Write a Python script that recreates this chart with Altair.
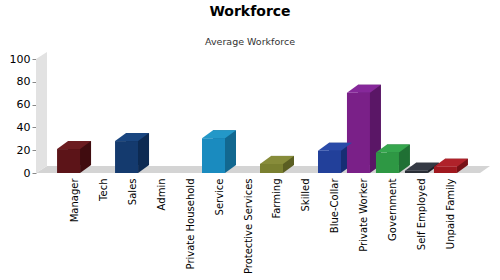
import altair as alt
import pandas as pd

categories = ["Manager", "Tech", "Sales", "Admin", "Private Household", "Service",
              "Protective Services", "Farming", "Skilled", "Blue-Collar",
              "Private Worker", "Government", "Self Employed", "Unpaid Family"]
values = [21, 0, 28, 0, 0, 30.5, 0, 8, 0, 19.5, 70.5, 18, 2, 5.5]

front_colors = ["#5c1418", "#888888", "#143a6e", "#888888", "#888888", "#1a8bbf",
                "#888888", "#7a8030", "#888888", "#22409a", "#7a2088", "#2e9844",
                "#2a2e36", "#a0181f"]
top_colors = ["#6c1c20", "#999999", "#1a4680", "#999999", "#999999", "#2398c8",
              "#999999", "#878c3a", "#999999", "#2a4aa8", "#86289a", "#36a64e",
              "#353a44", "#b0222a"]
side_colors = ["#400c0f", "#666666", "#0d2a52", "#666666", "#666666", "#126890",
               "#666666", "#5a5e22", "#666666", "#172e74", "#5a1666", "#207034",
               "#1c1f26", "#761116"]

df = pd.DataFrame({"category": categories, "value": values})
bars = df[df["value"] > 0]

# decorative floor and wall (pixel geometry)
floor_df = pd.DataFrame({"px": [0, 11, 444, 454], "top": [114, 107, 107, 107],
                         "bot": [114, 114, 114, 107]})
wall_df = pd.DataFrame({"px": [0, 11], "top": [0, -7], "bot": [114, 107]})

floor = alt.Chart(floor_df).mark_area(color="#d4d4d4", interpolate="linear").encode(
    x=alt.X("px:Q", scale=None, axis=None),
    y=alt.Y("top:Q", scale=None, axis=None),
    y2="bot:Q",
)
wall = alt.Chart(wall_df).mark_area(color="#e2e2e2", interpolate="linear").encode(
    x=alt.X("px:Q", scale=None, axis=None),
    y=alt.Y("top:Q", scale=None, axis=None),
    y2="bot:Q",
)

xscale = alt.Scale(type="band", domain=categories, paddingInner=0, paddingOuter=0.83)
yscale = alt.Scale(domain=[0, 100])

back = alt.Chart(bars).mark_bar(width=23, xOffset=5, yOffset=-8, y2Offset=-8).encode(
    x=alt.X("category:N", scale=xscale, axis=None),
    y=alt.Y("value:Q", scale=yscale, axis=None),
    color=alt.Color("category:N", scale=alt.Scale(domain=categories, range=side_colors), legend=None),
)
tri = alt.Chart(bars).mark_point(shape="M 5.5 0 L 16.5 -8 L 5.5 -8 Z", size=4, filled=True,
                                 opacity=1, strokeWidth=0).encode(
    x=alt.X("category:N", scale=xscale, axis=None),
    y=alt.Y(datum=0, scale=yscale, axis=None),
    color=alt.Color("category:N", scale=alt.Scale(domain=categories, range=side_colors), legend=None),
)
front = alt.Chart(bars).mark_bar(width=23, xOffset=-6).encode(
    x=alt.X("category:N", scale=xscale, title=None,
            axis=alt.Axis(labelAngle=-90, ticks=False, domain=False, labelPadding=5,
                          labelFontSize=10, labelColor="#000000", labelFont="DejaVu Sans")),
    y=alt.Y("value:Q", scale=yscale, title=None,
            axis=alt.Axis(values=[0, 20, 40, 60, 80, 100], domain=False, grid=False,
                          tickSize=4, tickColor="#888888", labelPadding=2,
                          labelFontSize=11, labelColor="#000000", labelFont="DejaVu Sans")),
    color=alt.Color("category:N", scale=alt.Scale(domain=categories, range=front_colors), legend=None),
)
topface = alt.Chart(bars).mark_point(shape="M -17.5 0 L 5.5 0 L 16.5 -8 L -6.5 -8 Z", size=4,
                                     filled=True, opacity=1, strokeWidth=0).encode(
    x=alt.X("category:N", scale=xscale, axis=None),
    y=alt.Y("value:Q", scale=yscale, axis=None),
    color=alt.Color("category:N", scale=alt.Scale(domain=categories, range=top_colors), legend=None),
)

chart = alt.layer(floor, wall, back, tri, front, topface).resolve_scale(
    x="independent", y="independent", color="independent"
).resolve_axis(
    x="independent", y="independent"
).properties(
    width=454, height=114,
    title=alt.TitleParams(text="Workforce", subtitle="Average Workforce",
                          font="DejaVu Sans", fontSize=14, fontWeight="bold", color="#000000",
                          subtitleFont="DejaVu Sans", subtitleFontSize=9.5, subtitleColor="#333333",
                          subtitlePadding=18, offset=6, anchor="middle", dx=-13),
    autosize=alt.AutoSizeParams(type="none"),
    padding={"left": 36, "top": 59, "right": 10, "bottom": 107},
).configure_view(stroke=None)

chart.save("out.html", embed_options={"renderer": "svg", "actions": False})
